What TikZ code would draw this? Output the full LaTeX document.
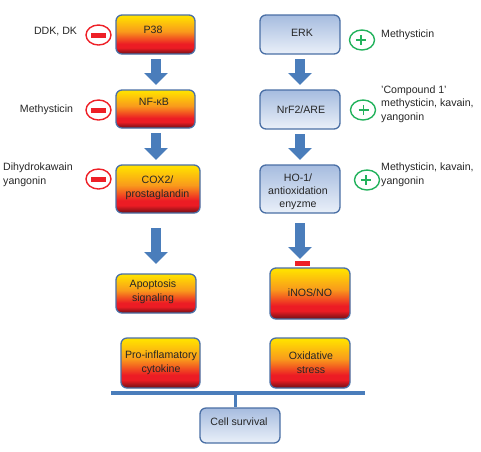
\documentclass[tikz,border=0pt]{standalone}
\usepackage{fontspec}
\setmainfont{Liberation Sans}
\usetikzlibrary{arrows.meta,shapes.geometric}
\definecolor{edgeblue}{HTML}{4A6FA5}
\definecolor{arrowblue}{HTML}{4A7DBB}
\definecolor{ringred}{HTML}{EE2027}
\definecolor{ringgreen}{HTML}{22B25C}
\definecolor{ink}{HTML}{262626}
\definecolor{heattop}{HTML}{FFDF00}
\definecolor{heatmid}{HTML}{F99A1C}
\definecolor{heatlow}{HTML}{EC1C24}
\definecolor{heatdark}{HTML}{6E0F14}
\pgfdeclareverticalshading{heatgrad}{100bp}{
  color(0bp)=(heatdark);
  color(25bp)=(heatdark);
  color(33bp)=(heatlow);
  color(38bp)=(heatlow);
  color(54bp)=(heatmid);
  color(73bp)=(heattop);
  color(75bp)=(heattop);
  color(100bp)=(heattop)}
\definecolor{bluetop}{HTML}{A6BCDF}
\definecolor{bluebot}{HTML}{EAF0F9}
\pgfdeclareverticalshading{coolgrad}{100bp}{
  color(0bp)=(bluebot);
  color(25bp)=(bluebot);
  color(75bp)=(bluetop);
  color(100bp)=(bluetop)}
\tikzset{
  x=1pt,y=-1pt,
  boxbase/.style={draw=edgeblue,line width=1.3pt,rounded corners=6pt,inner sep=0pt,anchor=center},
  hotbox/.style={boxbase,shading=heatgrad},
  coolbox/.style={boxbase,shading=coolgrad},
  lbl/.style={font=\fontsize{10.6}{13.6}\selectfont,text=ink,inner sep=0pt,align=center},
  lbll/.style={lbl,align=left,anchor=west},
  blockarrow/.style={draw=arrowblue,line width=10pt,-{Triangle[width=23pt,length=12pt]},shorten <=5pt},
  ring/.style={ellipse,draw,line width=1.4pt,minimum width=25pt,minimum height=20pt,inner sep=0pt},
  redring/.style={ring,draw=ringred},
  greenring/.style={ring,draw=ringgreen},
  minusbar/.style={fill=ringred,draw=none,minimum width=15pt,minimum height=5pt,inner sep=0pt},
  plusbar/.style={draw=ringgreen,line width=1.4pt},
  hbar/.style={draw=arrowblue,line width=3.6pt},
}
\newcommand{\boxat}[6]{\node[#1,minimum width=#5 pt-#3 pt,minimum height=#6 pt-#4 pt] (#2) at ({(#3+#5)/2},{(#4+#6)/2}) {};}
\newcommand{\plusat}[2]{\draw[plusbar] (#1,#2-5) -- (#1,#2+5); \draw[plusbar] (#1-5,#2) -- (#1+5,#2);}
\begin{document}
\begin{tikzpicture}
\useasboundingbox (0,0) rectangle (481,451);
% boxes
\boxat{hotbox}{p38}{116}{15}{195}{54}
\boxat{hotbox}{nfkb}{116}{90}{195}{128}
\boxat{hotbox}{cox}{116}{165}{200}{213}
\boxat{hotbox}{apo}{116}{274}{196}{313}
\boxat{hotbox}{pro}{121}{338}{200}{388}
\boxat{coolbox}{erk}{260}{15}{340}{54}
\boxat{coolbox}{nrf}{260}{90}{340}{129}
\boxat{coolbox}{ho}{260}{165}{340}{213}
\boxat{hotbox}{inos}{270}{268}{350}{319}
\boxat{hotbox}{oxi}{270}{338}{350}{388}
\boxat{coolbox}{cell}{200}{408}{280}{443}
% box texts
\node[lbl] (tp38) at (153,30) {P38};
\node[lbl] (tnf) at (154,102) {NF-κB};
\node[lbl] (tcox) at (157.5,188) {COX2/\\prostaglandin};
\node[lbl] (tapo) at (153,291.5) {Apoptosis\\signaling};
\node[lbl] (tpro) at (161,362.5) {Pro-inflamatory\\cytokine};
\node[lbl] (terk) at (302,33) {ERK};
\node[lbl] (tnrf) at (301,110) {NrF2/ARE};
\node[lbl,font=\fontsize{10.6}{12.8}\selectfont] (tho) at (298,191.5) {HO-1/\\antioxidation\\enyzme};
\node[lbl] (tinos) at (310,293) {iNOS/NO};
\node[lbl] (toxi) at (311,362.5) {Oxidative\\stress};
\node[lbl] (tcell) at (239,422) {Cell survival};
% block arrows
\coordinate (a1) at (156,54); \coordinate (b1) at (156,85);
\coordinate (a2) at (156,128); \coordinate (b2) at (156,160);
\coordinate (a3) at (156,223); \coordinate (b3) at (156,264);
\coordinate (a4) at (300,54); \coordinate (b4) at (300,85);
\coordinate (a5) at (300,129); \coordinate (b5) at (300,160);
\coordinate (a6) at (300,218); \coordinate (b6) at (300,259);
\draw[blockarrow] (a1) -- (b1);
\draw[blockarrow] (a2) -- (b2);
\draw[blockarrow] (a3) -- (b3);
\draw[blockarrow] (a4) -- (b4);
\draw[blockarrow] (a5) -- (b5);
\draw[blockarrow] (a6) -- (b6);
\node[minusbar] (inh) at (302.5,263.5) {};
% survival bar
\coordinate (barl) at (111,393); \coordinate (barr) at (365,393); \coordinate (barm) at (235.5,393);
\draw[hbar] (barl) -- (barr);
\draw[hbar] (barm) -- (barm |- cell.north);
% minus rings
\node[redring] (r1) at (98.5,35) {};
\node[minusbar] (m1) at (r1) {};
\node[redring] (r2) at (98.5,110) {};
\node[minusbar] (m2) at (r2) {};
\node[redring] (r3) at (98.5,179) {};
\node[minusbar] (m3) at (r3) {};
% plus rings
\node[greenring] (g1) at (362,40) {};
\plusat{361}{40}
\node[greenring] (g2) at (363,110) {};
\plusat{363.5}{110}
\node[greenring] (g3) at (367,180) {};
\plusat{366}{180}
% side texts
\node[lbl] (s1) at (55.5,32) {DDK, DK};
\node[lbl] (s2) at (46.5,110) {Methysticin};
\node[lbll] (s3) at (3,175) {Dihydrokawain\\yangonin};
\node[lbll] (s4) at (381,35) {Methysticin};
\node[lbll] (s5) at (381,104) {'Compound 1'\\methysticin, kavain,\\yangonin};
\node[lbll] (s6) at (381,175) {Methysticin, kavain,\\yangonin};
\end{tikzpicture}
\end{document}
